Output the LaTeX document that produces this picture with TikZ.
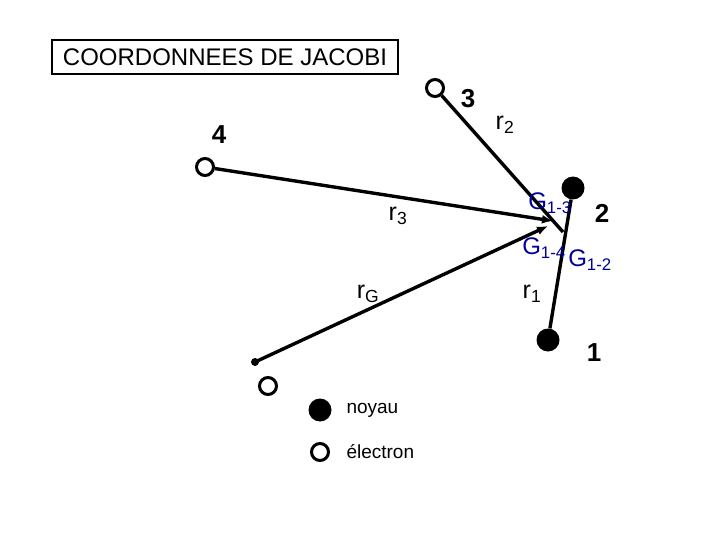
\documentclass[tikz,border=0pt]{standalone}
\usepackage{fontspec}
\setmainfont{Liberation Sans}
\usetikzlibrary{arrows.meta}
\begin{document}
\begin{tikzpicture}[x=1pt,y=-1pt,
  elec/.style={circle,draw,line width=3pt,minimum size=17pt,inner sep=0pt},
  nuc/.style={circle,fill,minimum size=23pt,inner sep=0pt},
  lbl/.style={font=\fontsize{25}{28}\selectfont},
  blbl/.style={font=\bfseries\fontsize{26}{28}\selectfont},
  glbl/.style={font=\fontsize{24}{26}\selectfont,text=blue!60!black},
  vec/.style={line width=3.4pt},
  arr/.style={vec,-{Latex[length=11pt,width=9pt]}}]
\useasboundingbox (0,0) rectangle (720,540);
\node[draw,line width=1.6pt,minimum width=346pt,minimum height=34pt,font=\fontsize{24}{26}\selectfont] (title) at (225,57) {COORDONNEES DE JACOBI};
\node[elec] (e3) at (435,88) {};
\node[elec] (e4) at (205,167) {};
\node[elec] (e5) at (268,386) {};
\node[nuc] (n2) at (573,188) {};
\node[nuc] (n1) at (548,340) {};
\fill (255,362) circle (4pt) coordinate (o);
\coordinate (g13) at (553,221);
\coordinate (g14) at (548,226);
\coordinate (g12) at (563,232);
\draw[vec] (n1) -- (n2);
\draw[vec] (e3) -- (g12);
\draw[arr] (e4) -- (g13);
\draw[arr] (o) -- (g14);
\node[blbl] (l3) at (468,99) {3};
\node[blbl] (l4) at (219,135) {4};
\node[blbl] (l2) at (602,213) {2};
\node[blbl] (l1) at (594,353) {1};
\node[lbl] (r2) at (505,125) {r\textsubscript{2}};
\node[lbl] (r3) at (398,216) {r\textsubscript{3}};
\node[lbl] (rG) at (368,294) {r\textsubscript{G}};
\node[lbl] (r1) at (532,294) {r\textsubscript{1}};
\node[glbl] (G13) at (550,203) {G\textsubscript{1-3}};
\node[glbl] (G14) at (544,248) {G\textsubscript{1-4}};
\node[glbl] (G12) at (590,260) {G\textsubscript{1-2}};
\node[nuc] (ln) at (320,410) {};
\node[elec] (le) at (320,452) {};
\node[anchor=west,font=\fontsize{19}{21}\selectfont] (tn) at (343,410) {noyau};
\node[anchor=west,font=\fontsize{19}{21}\selectfont] (te) at (343,452) {électron};
\end{tikzpicture}
\end{document}
